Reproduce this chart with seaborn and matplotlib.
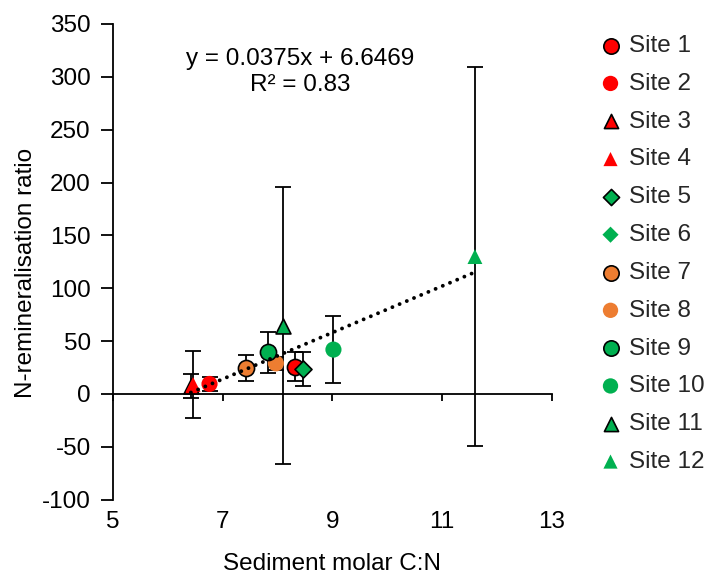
import numpy as np
import pandas as pd
import matplotlib
matplotlib.use("Agg")
import matplotlib.pyplot as plt
import seaborn as sns

sites = ["Site 1", "Site 2", "Site 3", "Site 4", "Site 5", "Site 6",
         "Site 7", "Site 8", "Site 9", "Site 10", "Site 11", "Site 12"]
sediment_cn = [8.32, 6.76, 6.42, 6.46, 8.47, np.nan, 7.42, 7.97, 7.82, 9.02, 8.10, 11.60]
n_ratio = [26.0, 9.5, 7.5, 9.0, 23.5, np.nan, 24.5, 29.0, 39.5, 42.0, 64.5, 130.0]
n_ratio_err = [13.5, 7.0, 11.5, 31.5, 16.0, np.nan, 12.0, 6.0, 19.5, 32.0, 131.0, 179.0]
markers = ["o", "o", "^", "^", "D", "D", "o", "o", "o", "o", "^", "^"]
colors = ["#FF0000", "#FF0000", "#FF0000", "#FF0000", "#00B050", "#00B050",
          "#ED7D31", "#ED7D31", "#00B050", "#00B050", "#00B050", "#00B050"]
outlined = [True, False, True, False, True, False, True, False, True, False, True, False]

x_ticks = [5, 7, 9, 11, 13]
y_ticks = [-100, -50, 0, 50, 100, 150, 200, 250, 300, 350]
equation_text = "y = 0.0375x + 6.6469"
r2_text = "R² = 0.83"

sns.set_theme(style="white")
plt.rcParams["font.family"] = ["Liberation Sans", "DejaVu Sans"]
FS = 17.5
plt.rcParams["font.size"] = FS

fig = plt.figure(figsize=(7.09, 5.77), dpi=100)
ax = fig.add_axes([113 / 709, 1 - 499.7 / 577, (551.7 - 113) / 709, (499.7 - 24) / 577])

df = pd.DataFrame({"site": sites, "cn": sediment_cn, "ratio": n_ratio, "err": n_ratio_err})

sizes = {"o": 135, "^": 115, "D": 75}
for i, row in df.iterrows():
    if np.isnan(row["cn"]):
        # series present in legend only
        ax.scatter([], [], marker=markers[i], s=sizes[markers[i]], color=colors[i],
                   edgecolor="black" if outlined[i] else "none",
                   linewidth=1.2 if outlined[i] else 0, label=row["site"])
        continue
    ax.errorbar([row["cn"]], [row["ratio"]], yerr=[row["err"]], fmt="none",
                ecolor="black", elinewidth=1.3, capsize=6, capthick=1.3, zorder=2)
    sns.scatterplot(x=[row["cn"]], y=[row["ratio"]], ax=ax, marker=markers[i],
                    s=sizes[markers[i]], color=colors[i],
                    edgecolor="black" if outlined[i] else "none",
                    linewidth=1.2 if outlined[i] else 0, label=row["site"],
                    zorder=3, legend=False)

sns.regplot(data=df.dropna(), x="cn", y="ratio", ax=ax, scatter=False, ci=None,
            truncate=True,
            line_kws=dict(color="black", linewidth=2.8, linestyle=(0, (0.01, 2.0)),
                          dash_capstyle="round", zorder=4))

ax.set_xlim(5, 13)
ax.set_ylim(-100, 350)
ax.set_xticks(x_ticks)
ax.set_yticks(y_ticks)
ax.set_yticklabels([str(v) for v in y_ticks])

for s in ["top", "right"]:
    ax.spines[s].set_visible(False)
ax.spines["bottom"].set_position(("data", 0))
for s in ["left", "bottom"]:
    ax.spines[s].set_color("black")
    ax.spines[s].set_linewidth(1.3)

ax.tick_params(axis="x", direction="out", length=5, width=1.3, color="black",
               bottom=True, labelbottom=False)
ax.tick_params(axis="y", direction="out", length=9, width=1.3, color="black",
               left=True, labelsize=FS, labelcolor="black", pad=7)

ax.set_ylabel("N-remineralisation ratio", fontsize=FS, color="black")
ax.yaxis.set_label_coords(-0.173, 0.477)
ax.set_xlabel("Sediment molar C:N", fontsize=FS, color="black")
ax.xaxis.set_label_coords(0.5, -0.112)

sec = ax.secondary_xaxis("bottom")
sec.set_xticks(x_ticks)
sec.set_xticklabels([str(v) for v in x_ticks])
sec.spines["bottom"].set_visible(False)
sec.tick_params(axis="x", length=0, labelsize=FS, labelcolor="black", pad=8)

ax.text(0.426, 0.927, equation_text, transform=ax.transAxes, ha="center", va="center",
        fontsize=FS, color="black")
ax.text(0.426, 0.872, r2_text, transform=ax.transAxes, ha="center", va="center",
        fontsize=FS, color="black")

handles, labels = ax.get_legend_handles_labels()
order = [labels.index(s) for s in sites]
fig.legend([handles[k] for k in order], [labels[k] for k in order],
           loc="upper left", bbox_to_anchor=(602 / 709, 1 - 35 / 577),
           frameon=False, markerscale=0.95, handlelength=0.7, handletextpad=0.4,
           labelspacing=0.65, borderpad=0, borderaxespad=0, fontsize=FS)

fig.savefig("out.png", dpi=100)
